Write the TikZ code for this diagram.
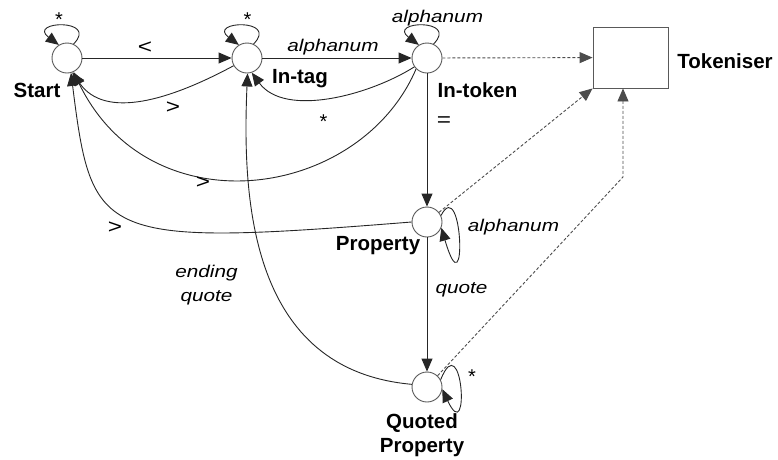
\documentclass[tikz,border=0pt]{standalone}
\usepackage{fontspec}
\setmainfont{Liberation Sans}
\newfontfamily\lblfont[FakeStretch=1.22]{Liberation Sans}
\usetikzlibrary{arrows.meta}
\begin{document}
\begin{tikzpicture}[x=1pt,y=-1pt,
  st/.style={circle,draw=black!65,line width=0.9pt,minimum size=30pt,inner sep=0pt,fill=white},
  tr/.style={draw=black!85,line width=0.9pt,-{Triangle[length=13pt,width=11pt]}},
  dsh/.style={draw=black!70,line width=0.9pt,dash pattern=on 3pt off 2pt,-{Triangle[length=13pt,width=11pt]}},
  bl/.style={font=\fontsize{20.5}{24}\selectfont\bfseries,inner sep=0pt,anchor=base},
  il/.style={font=\lblfont\fontsize{17}{24}\selectfont\itshape,inner sep=0pt,anchor=base,align=center},
  sy/.style={font=\lblfont\fontsize{20}{24}\selectfont,inner sep=0pt},
  ast/.style={font=\fontsize{20}{24}\selectfont,inner sep=0pt,anchor=north}]
\useasboundingbox (0,0) rectangle (778,459);
% states
\node[st] (s) at (67,58) {};
\node[st] (it) at (247,58) {};
\node[st] (tk) at (427,58) {};
\node[st] (p) at (427,222) {};
\node[st] (q) at (427,387) {};
\node[draw=black!65,line width=0.9pt,minimum width=75pt,minimum height=61pt,inner sep=0pt] (tok) at (630.5,57.5) {};
% state names
\node[bl] (ls) at (37,97.5) {Start};
\node[bl] (lit) at (300,83) {In-tag};
\node[bl] (ltk) at (477.5,97) {In-token};
\node[bl] (lp) at (378,250) {Property};
\node[bl] (ltok) at (725,68) {Tokeniser};
\node[bl,align=center,anchor=base] (lq) at (422,452) {Quoted\\Property};
% straight transitions
\draw[tr] (s) -- (it);
\draw[tr] (it) -- (tk);
\draw[tr] (tk) -- (p);
\draw[tr] (p) -- (q);
% loops
\draw[tr] (s.65) .. controls +(26,-26) and +(-32,-24) .. (s.122);
\draw[tr] (it.65) .. controls +(26,-26) and +(-32,-24) .. (it.122);
\draw[tr] (tk.65) .. controls +(26,-26) and +(-32,-24) .. (tk.122);
\draw[tr] (p.25) .. controls +(22,-42) and +(26,88) .. (p.-22);
\draw[tr] (q.28) .. controls +(22,-55) and +(28,60) .. (q.-8);
% back transitions
\draw[tr] (it.210) .. controls (170,100) and (105,120) .. (s.-70);
\draw[tr] (tk.215) .. controls (370,95) and (285,118) .. (it.-72);
\draw[tr] (tk.225) .. controls (360,200) and (150,230) .. (s.-65);
\draw[tr] (p.180) .. controls (98,247) and (92,240) .. (s.-75);
\draw[tr] (q.170) .. controls (250,370) and (242,200) .. (it.-88);
% dashed to tokeniser
\coordinate (qb) at (623,177);
\draw[dsh] (tk) -- (tok);
\draw[dsh] (p) -- (tok.south west);
\draw[dsh] (q) -- (qb) -- (qb |- tok.south);
% edge labels
\node[ast] (a1) at (59,12.5) {*};
\node[ast] (a2) at (247.5,12.5) {*};
\node[il] (l1) at (437.5,22.5) {alphanum};
\node[sy] (l2) at (145,47.5) {<};
\node[il] (l3) at (333,51) {alphanum};
\node[sy] (l4) at (173,108) {>};
\node[ast] (a3) at (323.5,115) {*};
\node[sy] (l5) at (444,121.5) {=};
\node[sy] (l6) at (203,183) {>};
\node[sy] (l7) at (115,228) {>};
\node[il] (l8) at (513.5,231) {alphanum};
\node[il] (l9) at (206.5,301.5) {ending\\quote};
\node[il] (l10) at (461.5,293.5) {quote};
\node[ast] (a4) at (472,370) {*};
\end{tikzpicture}
\end{document}
